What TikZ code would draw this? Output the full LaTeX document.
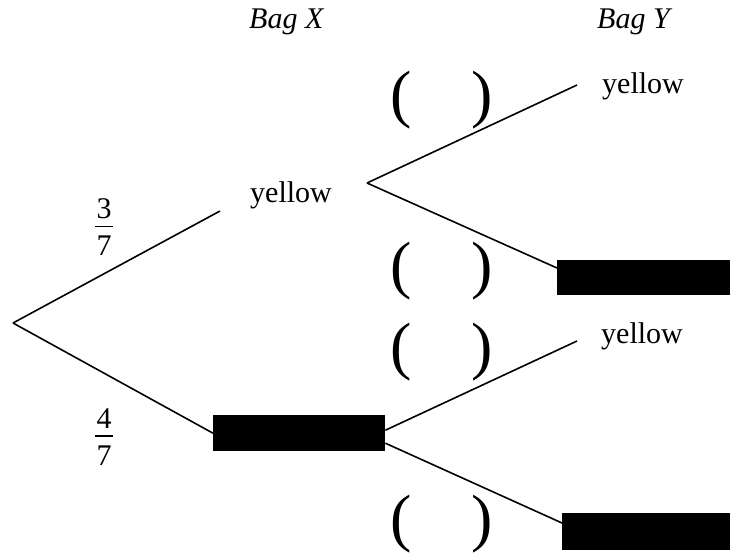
\documentclass[tikz,border=0pt]{standalone}
\usepackage{fontspec}
\setmainfont{Liberation Serif}
% stacked fraction: numerator, bar, denominator
\newcommand{\stackfrac}[2]{\vbox{\offinterlineskip
  \hbox to 18pt{\hss#1\hss}\kern7pt
  \hrule height 1.5pt\kern9pt
  \hbox to 18pt{\hss#2\hss}}}
\begin{document}
\begin{tikzpicture}[x=1pt,y=-1pt,
  lbl/.style={inner sep=0pt,anchor=base west,font=\fontsize{30}{36}\selectfont},
  bag/.style={lbl,font=\fontsize{30}{36}\selectfont\itshape},
  frac/.style={inner sep=0pt,font=\fontsize{30}{36}\selectfont},
  paren/.style={inner sep=0pt,anchor=base west,font=\fontsize{64}{70}\selectfont},
  hidden/.style={fill=black,draw=none,inner sep=0pt,anchor=north west},
  branch/.style={line width=1.6pt,black}]
\useasboundingbox (0,0) rectangle (730,555);

% column headings
\node[bag] (bx) at (249,28) {Bag X};
\node[bag] (by) at (597,28) {Bag Y};

% first stage
\coordinate (root) at (13,323);
\node[lbl] (x1) at (250,202) {yellow};
\coordinate (x1in) at (220,211);
\node[hidden,minimum width=172pt,minimum height=36pt] (x2) at (213,415) {};

\draw[branch] (root) -- (x1in);
\draw[branch] (root) -- (x2.west);

\node[frac] (p1) at (104,227) {\stackfrac{3}{7}};
\node[frac] (p2) at (104,437) {\stackfrac{4}{7}};

% second stage after yellow
\coordinate (x1out) at (367,183);
\node[lbl] (y1) at (602,93) {yellow};
\coordinate (y1in) at (577,85);
\node[hidden,minimum width=176pt,minimum height=35pt] (y2) at (557,260) {};

\draw[branch] (x1out) -- (y1in);
\draw[branch] (x1out) -- ([yshift=-8pt]y2.north west);

% second stage after the other colour
\node[lbl] (y3) at (601,343) {yellow};
\coordinate (y3in) at (577,341);
\node[hidden,minimum width=171pt,minimum height=37pt] (y4) at (562,513) {};

\draw[branch] ([yshift=3pt]x2.east) -- (y3in);
\draw[branch] ([yshift=-10pt]x2.east) -- ([yshift=-10pt]y4.north west);

% blanks for the missing probabilities
\node[paren] (b1) at (390,115) {(\hspace{59.7pt})};
\node[paren] (b2) at (390,286) {(\hspace{59.7pt})};
\node[paren] (b3) at (390,367) {(\hspace{59.7pt})};
\node[paren] (b4) at (390,539) {(\hspace{59.7pt})};
\end{tikzpicture}
\end{document}
